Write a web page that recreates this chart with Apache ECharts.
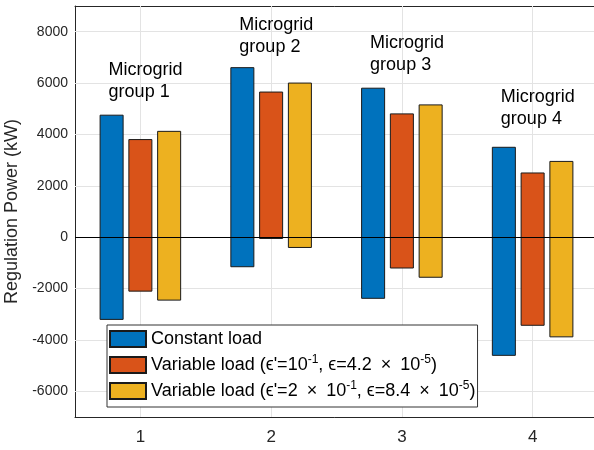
<!DOCTYPE html>
<html><head><meta charset="utf-8">
<script src="https://cdn.jsdelivr.net/npm/echarts@6/dist/echarts.min.js"></script>
<style>html,body{margin:0;padding:0;background:#fff}#c{width:594px;height:450px}</style>
</head><body><div id="c"></div>
<script>
// ---- data ----
const categories = ['1', '2', '3', '4'];
const seriesNames = ['Constant load', "Variable load (ϵ'=10⁻¹, ϵ=4.2 × 10⁻⁵)", "Variable load (ϵ'=2 × 10⁻¹, ϵ=8.4 × 10⁻⁵)"];
const legendLabels = ['Constant load', "Variable load (ϵ'=10{sup|-1}, ϵ=4.2\u2002×\u200210{sup|-5})", "Variable load (ϵ'=2\u2002×\u200210{sup|-1}, ϵ=8.4\u2002×\u200210{sup|-5})"];
const constHigh = [4750, 6600, 5800, 3500];
const constLow = [-3200, -1150, -2380, -4600];
const var1High = [3800, 5650, 4800, 2500];
const var1Low = [-2100, -50, -1200, -3430];
const var2High = [4120, 6000, 5150, 2950];
const var2Low = [-2450, -400, -1560, -3880];
const yTicks = [-6000, -4000, -2000, 0, 2000, 4000, 6000, 8000];
const annoLabels = ['Microgrid\ngroup 1', 'Microgrid\ngroup 2', 'Microgrid\ngroup 3', 'Microgrid\ngroup 4'];
const annoTop = [6950, 8700, 8000, 5900];

// ---- style ----
const FONT = '"Liberation Sans", Arial, Helvetica, sans-serif';
const AX = '#262626';
const GRID = '#e3e3e3';
const colors = ['#0072BD', '#D95319', '#EDB120'];
const barOffsets = [-0.22, 0, 0.22];
const barWidth = 0.176;

function rangeData(low, high) {
  return categories.map((c, i) => [i, low[i], high[i]]);
}
function barRender(k) {
  return function (params, api) {
    const cat = api.value(0);
    const lo = api.value(1), hi = api.value(2);
    const band = api.size([1, 0])[0];
    const pTop = api.coord([cat, hi]);
    const pBot = api.coord([cat, lo]);
    const w = band * barWidth;
    const cx = pTop[0] + band * barOffsets[k];
    return {
      type: 'rect',
      shape: { x: cx - w / 2, y: pTop[1], width: w, height: pBot[1] - pTop[1] },
      style: { fill: colors[k], stroke: '#1a1a1a', lineWidth: 1 }
    };
  };
}
function annoRender(params, api) {
  const cat = api.value(0);
  const band = api.size([1, 0])[0];
  const p = api.coord([cat, api.value(1)]);
  return {
    type: 'text',
    x: p[0] - band * 0.243,
    y: p[1],
    style: {
      text: annoLabels[params.dataIndex],
      font: '18px ' + FONT,
      fill: '#000',
      align: 'left',
      verticalAlign: 'top',
      lineHeight: 22
    }
  };
}

const lows = [constLow, var1Low, var2Low];
const highs = [constHigh, var1High, var2High];

const series = seriesNames.map((name, k) => ({
  name: name,
  type: 'custom',
  renderItem: barRender(k),
  encode: { x: 0, y: [1, 2] },
  data: rangeData(lows[k], highs[k]),
  itemStyle: { color: colors[k], borderColor: '#1a1a1a', borderWidth: 1 },
  z: 2,
  silent: true,
  markLine: k === 0 ? {
    silent: true, symbol: 'none', z: 1, animation: false,
    label: { show: false },
    lineStyle: { color: GRID, width: 1, type: 'solid' },
    data: yTicks.map(v => ({ yAxis: v })).concat(categories.map(c => ({ xAxis: c })))
  } : undefined
}));

series.push({
  name: 'annotations',
  type: 'custom',
  renderItem: annoRender,
  encode: { x: 0, y: 1 },
  data: annoTop.map((v, i) => [i, v]),
  z: 6,
  silent: true,
  markLine: {
    silent: true, symbol: 'none', z: 10, animation: false,
    label: { show: false },
    lineStyle: { color: '#000', width: 1, type: 'solid' },
    data: [{ yAxis: 0 }]
  }
});

const chart = echarts.init(document.getElementById('c'), null, { renderer: 'canvas' });
chart.setOption({
  animation: false,
  backgroundColor: '#fff',
  textStyle: { fontFamily: FONT },
  grid: { left: 75, right: -4, top: 6, bottom: 33, containLabel: false, outerBoundsMode: 'none' },
  legend: {
    data: seriesNames,
    orient: 'vertical',
    left: 107, top: 325,
    itemWidth: 36, itemHeight: 16, itemGap: 4,
    padding: [3, 2, 5, 2],
    backgroundColor: '#fff',
    borderColor: '#333', borderWidth: 1,
    icon: 'rect',
    selectedMode: false,
    formatter: name => legendLabels[seriesNames.indexOf(name)],
    textStyle: {
      fontSize: 18, color: '#000', fontFamily: FONT, lineHeight: 22,
      rich: { sup: { fontSize: 12, lineHeight: 12, verticalAlign: 'top', fontFamily: FONT, color: '#000' } }
    }
  },
  xAxis: [{
    type: 'category', data: categories, position: 'bottom', boundaryGap: true,
    axisLine: { show: true, onZero: false, lineStyle: { color: AX, width: 1 } },
    axisTick: { show: true, inside: true, alignWithLabel: true, length: 5, lineStyle: { color: AX } },
    axisLabel: { fontSize: 17, color: AX, margin: 12, fontFamily: FONT },
    splitLine: { show: false }
  }, {
    type: 'category', data: categories, position: 'top', boundaryGap: true,
    axisLine: { show: true, onZero: false, lineStyle: { color: AX, width: 1 } },
    axisTick: { show: true, inside: true, alignWithLabel: true, length: 5, lineStyle: { color: AX } },
    axisLabel: { show: false },
    splitLine: { show: false }
  }],
  yAxis: [{
    type: 'value', min: -7000, max: 9000, interval: 1000, position: 'left',
    name: 'Regulation Power (kW)', nameLocation: 'middle', nameGap: 45,
    nameTextStyle: { fontSize: 18, color: AX, fontFamily: FONT },
    axisLine: { show: true, onZero: false, lineStyle: { color: AX, width: 1 } },
    axisTick: { show: true, inside: true, length: 5, customValues: yTicks, lineStyle: { color: AX } },
    axisLabel: { fontSize: 14, color: AX, margin: 7, fontFamily: FONT, customValues: yTicks, formatter: v => String(v) },
    splitLine: { show: false }
  }, {
    type: 'value', min: -7000, max: 9000, interval: 1000, position: 'right',
    axisLine: { show: true, onZero: false, lineStyle: { color: AX, width: 1 } },
    axisTick: { show: true, inside: true, length: 5, customValues: yTicks, lineStyle: { color: AX } },
    axisLabel: { show: false },
    splitLine: { show: false }
  }],
  series: series
});
</script>
</body></html>
